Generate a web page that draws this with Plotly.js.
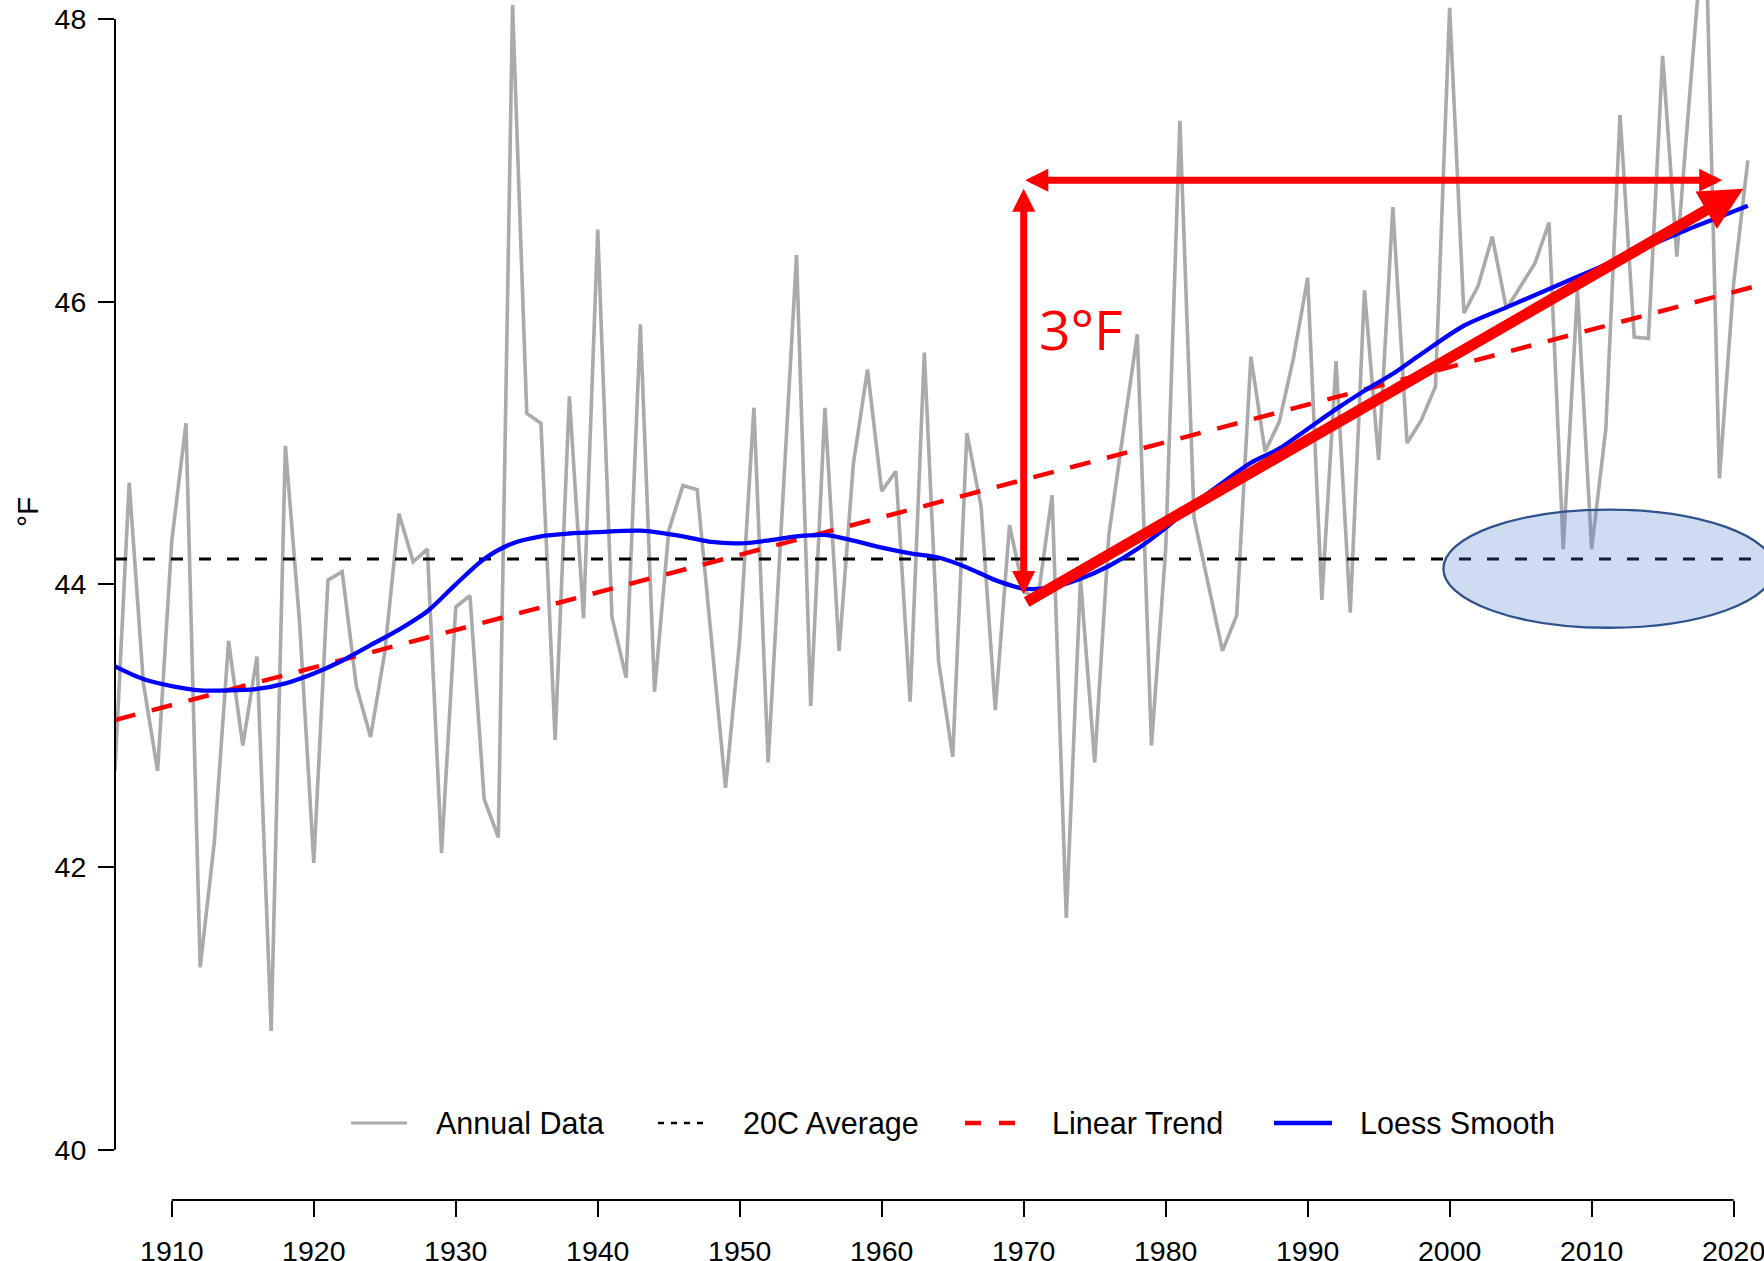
<!DOCTYPE html>
<html>
<head>
<meta charset="utf-8">
<script src="https://cdn.plot.ly/plotly-3.0.1.min.js"></script>
<style>
html, body { margin: 0; padding: 0; background: #ffffff; }
#chart { width: 1764px; height: 1261px; }
</style>
</head>
<body>
<div id="chart"></div>
<script>
// ---- data ----
const years = [
  1906, 1907, 1908, 1909, 1910, 1911, 1912, 1913, 1914, 1915,
  1916, 1917, 1918, 1919, 1920, 1921, 1922, 1923, 1924, 1925,
  1926, 1927, 1928, 1929, 1930, 1931, 1932, 1933, 1934, 1935,
  1936, 1937, 1938, 1939, 1940, 1941, 1942, 1943, 1944, 1945,
  1946, 1947, 1948, 1949, 1950, 1951, 1952, 1953, 1954, 1955,
  1956, 1957, 1958, 1959, 1960, 1961, 1962, 1963, 1964, 1965,
  1966, 1967, 1968, 1969, 1970, 1971, 1972, 1973, 1974, 1975,
  1976, 1977, 1978, 1979, 1980, 1981, 1982, 1983, 1984, 1985,
  1986, 1987, 1988, 1989, 1990, 1991, 1992, 1993, 1994, 1995,
  1996, 1997, 1998, 1999, 2000, 2001, 2002, 2003, 2004, 2005,
  2006, 2007, 2008, 2009, 2010, 2011, 2012, 2013, 2014, 2015,
  2016, 2017, 2018, 2019, 2020, 2021
];
const annualTemp = [
  42.68, 44.72, 43.30, 42.68, 44.31, 45.14, 41.29, 42.18, 43.60, 42.86,
  43.49, 40.84, 44.98, 43.73, 42.03, 44.03, 44.09, 43.28, 42.92, 43.52,
  44.50, 44.16, 44.25, 42.10, 43.84, 43.92, 42.48, 42.21, 48.10, 45.21,
  45.14, 42.90, 45.33, 43.76, 46.51, 43.77, 43.34, 45.84, 43.24, 44.38,
  44.70, 44.67, 43.62, 42.56, 43.61, 45.25, 42.74, 44.55, 46.33, 43.14,
  45.25, 43.53, 44.85, 45.52, 44.66, 44.80, 43.17, 45.64, 43.46, 42.78,
  45.07, 44.55, 43.11, 44.42, 43.95, 43.90, 44.63, 41.64, 44.04, 42.74,
  44.35, 45.07, 45.77, 42.86, 44.25, 47.28, 44.47, 44.00, 43.53, 43.78,
  45.61, 44.94, 45.15, 45.60, 46.17, 43.89, 45.58, 43.80, 46.08, 44.88,
  46.67, 45.00, 45.16, 45.40, 48.08, 45.92, 46.11, 46.46, 45.95, 46.11,
  46.27, 46.56, 44.25, 46.08, 44.25, 45.10, 47.32, 45.75, 45.74, 47.74,
  46.32, 47.58, 48.80, 44.75, 46.13, 47.00
];
const loessYears = [
  1906, 1908, 1910, 1912, 1914, 1916, 1918, 1920, 1922, 1924,
  1926, 1928, 1930, 1932, 1934, 1936, 1938, 1940, 1943, 1946,
  1948, 1950, 1952, 1954, 1956, 1958, 1960, 1962, 1964, 1966,
  1968, 1970, 1972, 1974, 1976, 1978, 1980, 1982, 1984, 1986,
  1988, 1990, 1992, 1994, 1996, 1998, 2001, 2004, 2007, 2010,
  2013, 2016, 2019, 2021
];
const loessTemp = [
  43.42, 43.33, 43.28, 43.25, 43.25, 43.26, 43.30, 43.37, 43.46, 43.57,
  43.68, 43.81, 44.00, 44.18, 44.29, 44.34, 44.36, 44.37, 44.38, 44.34,
  44.30, 44.29, 44.31, 44.34, 44.35, 44.31, 44.26, 44.22, 44.19, 44.12,
  44.03, 43.97, 43.98, 44.04, 44.13, 44.25, 44.40, 44.57, 44.72, 44.86,
  44.96, 45.10, 45.24, 45.37, 45.49, 45.63, 45.83, 45.96, 46.09, 46.22,
  46.35, 46.48, 46.60, 46.68
];
const trendYears = [1906, 2022.3];
const trendTemp = [43.04, 46.13];
const avgYears = [1906, 2022.3];
const avgTemp = [44.18, 44.18];

const xTickVals = [1910, 1920, 1930, 1940, 1950, 1960, 1970, 1980, 1990, 2000, 2010, 2020];
const yTickVals = [40, 42, 44, 46, 48];
const seriesNames = ["Annual Data", "20C Average", "Linear Trend", "Loess Smooth"];

// annotation geometry (data units)
const riseStart = [1970.0, 43.92];
const riseTop = [1970.0, 46.80];
const spanLeft = [1970.0, 46.86];
const spanRight = [2019.2, 46.86];
const trendArrowStart = [1970.1, 43.87];
const trendArrowEnd = [2020.69, 46.80];
const riseLabel = "3°F";
const riseLabelPos = [1973.97, 45.81];
const ellipseBox = {x0: 1999.56, x1: 2022.85, y0: 43.693, y1: 44.529};

const FONT = "Liberation Sans, Arial, Helvetica, sans-serif";

// series styles
const styles = [
  {color: "#aaaaaa", width: 3.6},
  {color: "#000000", width: 3, dash: "12px,16px"},
  {color: "#ff0000", width: 4.5, dash: "21px,17px"},
  {color: "#0000ff", width: 4.3, shape: "spline", smoothing: 0.8}
];
// legend sample styles (shorter dashes, as in the reference key)
const legendStyles = [
  {color: "#aaaaaa", width: 3},
  {color: "#000000", width: 2.6, dash: "6px,7px"},
  {color: "#ff0000", width: 4.5, dash: "16px,18px"},
  {color: "#0000ff", width: 4.3}
];

const traces = [
  {x: years, y: annualTemp, name: seriesNames[0], type: "scatter", mode: "lines", line: styles[0]},
  {x: avgYears, y: avgTemp, name: seriesNames[1], type: "scatter", mode: "lines", line: styles[1]},
  {x: trendYears, y: trendTemp, name: seriesNames[2], type: "scatter", mode: "lines", line: styles[2]},
  {x: loessYears, y: loessTemp, name: seriesNames[3], type: "scatter", mode: "lines", line: styles[3]}
];

// plot area in pixels
const M = {l: 115, r: 0, t: 0, b: 61};
const W = 1764, H = 1261;
const PW = W - M.l - M.r, PH = H - M.t - M.b;
const px2x = px => (px - M.l) / PW;
const py2y = py => (H - M.b - py) / PH;

// key layout (pixel positions of each entry: sample start/end, text start)
const keyY = 1123;
const keyEntries = [
  {s0: 351, s1: 407, t: 435},
  {s0: 658, s1: 709, t: 742},
  {s0: 965, s1: 1018, t: 1051},
  {s0: 1274, s1: 1332, t: 1359}
];

const shapes = [
  // R-style axis lines spanning only the tick range
  {type: "line", xref: "paper", yref: "y", x0: 0, x1: 0, y0: yTickVals[0], y1: yTickVals[yTickVals.length - 1],
   line: {color: "#000000", width: 2}},
  {type: "line", xref: "x", yref: "paper", x0: xTickVals[0], x1: xTickVals[xTickVals.length - 1], y0: 0, y1: 0,
   line: {color: "#000000", width: 2}},
  // highlight ellipse
  {type: "circle", xref: "x", yref: "y", layer: "above",
   x0: ellipseBox.x0, x1: ellipseBox.x1, y0: ellipseBox.y0, y1: ellipseBox.y1,
   fillcolor: "rgba(68,114,196,0.26)", line: {color: "#2f528f", width: 2.3}}
];
const annotations = [
  // vertical double arrow (rise)
  {x: riseTop[0], y: riseTop[1], ax: riseStart[0], ay: riseStart[1], xref: "x", yref: "y", axref: "x", ayref: "y",
   text: "", showarrow: true, arrowside: "end+start", arrowhead: 2, startarrowhead: 2,
   arrowwidth: 7, arrowsize: 0.66, startarrowsize: 0.66, arrowcolor: "#ff0000", standoff: 0, startstandoff: 0},
  // horizontal double arrow (span)
  {x: spanRight[0], y: spanRight[1], ax: spanLeft[0], ay: spanLeft[1], xref: "x", yref: "y", axref: "x", ayref: "y",
   text: "", showarrow: true, arrowside: "end+start", arrowhead: 2, startarrowhead: 2,
   arrowwidth: 7, arrowsize: 0.66, startarrowsize: 0.66, arrowcolor: "#ff0000", standoff: 0, startstandoff: 0},
  // thick trend arrow
  {x: trendArrowEnd[0], y: trendArrowEnd[1], ax: trendArrowStart[0], ay: trendArrowStart[1],
   xref: "x", yref: "y", axref: "x", ayref: "y",
   text: "", showarrow: true, arrowhead: 2, arrowwidth: 11, arrowsize: 0.78, arrowcolor: "#ff0000", standoff: 0},
  // 3°F label
  {x: riseLabelPos[0], y: riseLabelPos[1], xref: "x", yref: "y", text: riseLabel, showarrow: false,
   xanchor: "center", yanchor: "middle",
   font: {family: "Open Sans, Liberation Sans, sans-serif", size: 55, color: "#ff0000"}},
  // y-axis unit label
  {x: px2x(28), y: py2y(512), xref: "paper", yref: "paper", text: "°F", showarrow: false, textangle: -90,
   xanchor: "center", yanchor: "middle", font: {family: FONT, size: 30, color: "#000000"}}
];

// key (legend) drawn from the series names and styles
keyEntries.forEach((e, i) => {
  const ls = legendStyles[i];
  shapes.push({type: "line", xref: "paper", yref: "paper",
    x0: px2x(e.s0), x1: px2x(e.s1), y0: py2y(keyY), y1: py2y(keyY),
    line: {color: ls.color, width: ls.width, dash: ls.dash || "solid"}});
  annotations.push({x: px2x(e.t), y: py2y(keyY), xref: "paper", yref: "paper", text: seriesNames[i],
    showarrow: false, xanchor: "left", yanchor: "middle", borderpad: 0,
    font: {family: FONT, size: 30.5, color: "#000000"}});
});

const layout = {
  width: W, height: H,
  margin: M,
  paper_bgcolor: "#ffffff", plot_bgcolor: "#ffffff",
  font: {family: FONT, color: "#000000"},
  showlegend: false,
  xaxis: {
    range: [1906, 2022.14], showgrid: false, zeroline: false, showline: false,
    tickmode: "array", tickvals: xTickVals, ticktext: xTickVals.map(String),
    ticks: "outside", ticklen: 16, tickwidth: 2, tickcolor: "#000000",
    tickfont: {family: FONT, size: 28.5, color: "#000000"},
    ticklabelstandoff: 10, ticklabeloverflow: "allow"
  },
  yaxis: {
    range: [39.644, 48.135], showgrid: false, zeroline: false, showline: false,
    tickmode: "array", tickvals: yTickVals, ticktext: yTickVals.map(String),
    ticks: "outside", ticklen: 16, tickwidth: 2, tickcolor: "#000000",
    tickfont: {family: FONT, size: 28.5, color: "#000000"},
    ticklabelstandoff: 6, ticklabeloverflow: "allow"
  },
  shapes: shapes,
  annotations: annotations
};

Plotly.newPlot("chart", traces, layout, {staticPlot: true, displayModeBar: false});
</script>
</body>
</html>
